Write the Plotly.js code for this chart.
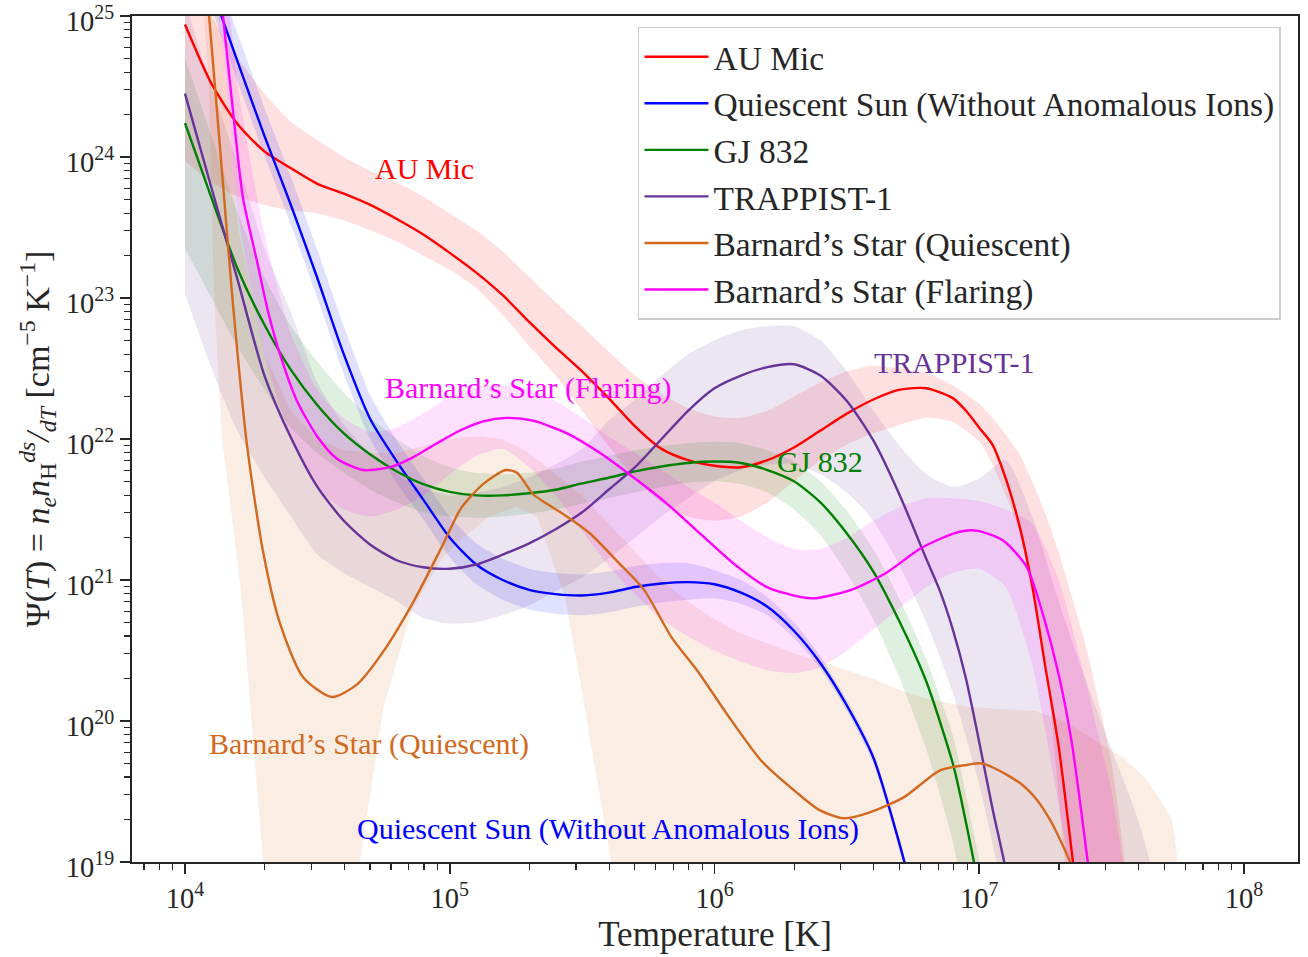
<!DOCTYPE html>
<html><head><meta charset="utf-8">
<script src="https://cdn.plot.ly/plotly-3.0.1.min.js"></script>
<style>body{margin:0;background:#fff}</style>
</head><body><div id="chart" style="width:1308px;height:957px"></div>
<script>
// ---- data (log10 T, log10 Psi) ----
const auMicLogT = [4.0,4.1,4.2,4.3,4.4,4.5,4.6,4.7,4.8,4.9,5.0,5.1,5.2,5.3,5.4,5.5,5.6,5.7,5.8,5.9,6.0,6.1,6.2,6.3,6.4,6.5,6.6,6.7,6.8,6.9,6.95,7.0,7.05,7.1,7.15,7.2,7.25,7.3,7.354,7.4];
const auMicLogPsi = [24.94,24.52,24.23,24.04,23.92,23.81,23.74,23.66,23.56,23.45,23.32,23.18,23.02,22.83,22.65,22.48,22.29,22.09,21.93,21.85,21.81,21.80,21.85,21.94,22.06,22.18,22.28,22.35,22.36,22.29,22.2,22.08,21.96,21.72,21.40,20.96,20.38,19.82,19.0,18.3];
const auMicBandLogT = [4.0,4.1,4.2,4.3,4.4,4.5,4.6,4.7,4.8,4.9,5.0,5.1,5.2,5.3,5.4,5.5,5.6,5.7,5.8,5.9,6.0,6.1,6.2,6.3,6.4,6.5,6.6,6.7,6.8,6.9,7.0,7.05,7.1,7.15,7.2,7.25,7.3,7.35,7.4,7.45,7.5,7.55,7.6];
const auMicBandUpper = [25.4,25.0,24.7,24.45,24.25,24.12,24.0,23.9,23.82,23.72,23.6,23.48,23.33,23.15,22.97,22.8,22.62,22.45,22.32,22.22,22.16,22.15,22.2,22.3,22.4,22.48,22.52,22.5,22.47,22.38,22.25,22.15,22.03,21.9,21.7,21.47,21.2,20.88,20.55,20.15,19.7,19.0,18.2];
const auMicBandLower = [23.97,23.82,23.72,23.66,23.62,23.6,23.55,23.48,23.4,23.3,23.2,23.07,22.88,22.66,22.45,22.2,21.95,21.72,21.55,21.45,21.42,21.45,21.55,21.7,21.85,21.96,22.04,22.1,22.15,22.12,21.98,21.82,21.6,21.35,20.9,20.45,19.45,18.5,17.8,17.5,17.5,17.5,17.5];

const quietSunLogT = [4.0,4.1,4.2,4.3,4.4,4.5,4.6,4.7,4.8,4.9,5.0,5.1,5.2,5.3,5.4,5.5,5.6,5.7,5.8,5.9,6.0,6.1,6.2,6.3,6.4,6.5,6.6,6.7,6.75,6.8];
const quietSunLogPsi = [25.75,25.2,24.67,24.15,23.66,23.14,22.6,22.14,21.84,21.57,21.3,21.11,21.0,20.93,20.9,20.89,20.91,20.95,20.975,20.985,20.97,20.91,20.81,20.64,20.41,20.11,19.74,19.12,18.75,18.3];
const quietSunBandUpper = [25.95,25.4,24.87,24.35,23.86,23.34,22.8,22.31,21.99,21.72,21.45,21.26,21.15,21.08,21.05,21.04,21.06,21.1,21.12,21.12,21.07,21.0,20.88,20.7,20.46,20.15,19.78,19.16,18.79,18.34];
const quietSunBandLower = [25.61,25.06,24.53,24.01,23.52,23.0,22.46,22.0,21.69,21.43,21.16,20.97,20.86,20.79,20.76,20.75,20.77,20.81,20.84,20.86,20.87,20.83,20.75,20.59,20.37,20.07,19.7,19.08,18.71,18.26];

const gj832LogT = [4.0,4.1,4.2,4.3,4.4,4.5,4.6,4.7,4.8,4.9,5.0,5.1,5.2,5.3,5.4,5.5,5.6,5.7,5.8,5.9,6.0,6.1,6.2,6.3,6.4,6.5,6.6,6.7,6.8,6.9,6.93,6.98,7.05];
const gj832LogPsi = [24.24,23.71,23.2,22.81,22.49,22.24,22.04,21.89,21.77,21.68,21.625,21.6,21.6,21.615,21.64,21.685,21.725,21.77,21.805,21.83,21.84,21.83,21.78,21.7,21.55,21.33,21.06,20.7,20.28,19.7,19.46,19.0,18.3];
const gj832BandUpper = [24.7,24.15,23.6,23.15,22.8,22.55,22.33,22.15,22.0,21.88,21.8,21.76,21.75,21.76,21.79,21.84,21.88,21.92,21.95,21.97,21.98,21.97,21.92,21.84,21.7,21.49,21.22,20.86,20.44,19.9,19.66,19.2,18.5];
const gj832BandLower = [23.35,23.0,22.65,22.35,22.08,21.9,21.76,21.64,21.55,21.48,21.45,21.44,21.45,21.47,21.5,21.54,21.58,21.62,21.66,21.69,21.7,21.68,21.62,21.5,21.32,21.05,20.72,20.3,19.8,19.15,18.85,18.4,17.6];

const trappistLogT = [4.0,4.1,4.2,4.3,4.4,4.5,4.6,4.7,4.8,4.9,5.0,5.1,5.2,5.3,5.4,5.5,5.6,5.7,5.8,5.9,6.0,6.1,6.2,6.3,6.4,6.5,6.6,6.7,6.8,6.85,6.9,6.95,7.0,7.05,7.1,7.15];
const trappistLogPsi = [24.45,23.78,23.12,22.45,22.01,21.66,21.42,21.25,21.14,21.09,21.08,21.11,21.18,21.26,21.36,21.48,21.64,21.8,22.0,22.2,22.36,22.45,22.51,22.53,22.45,22.27,21.99,21.6,21.15,20.93,20.65,20.3,19.85,19.38,18.95,18.45];
const trappistBandLogT = [4.0,4.1,4.2,4.3,4.4,4.5,4.6,4.7,4.8,4.9,5.0,5.1,5.2,5.3,5.4,5.5,5.6,5.7,5.8,5.9,6.0,6.1,6.2,6.3,6.4,6.5,6.6,6.7,6.8,6.9,7.0,7.1,7.2,7.3,7.4,7.5,7.6,7.7,7.76];
const trappistBandUpper = [25.1,24.5,23.95,23.35,22.9,22.4,22.1,21.9,21.75,21.65,21.6,21.62,21.66,21.73,21.82,21.93,22.13,22.28,22.45,22.6,22.7,22.77,22.8,22.8,22.7,22.48,22.2,21.95,21.75,21.66,21.72,21.85,21.45,20.85,20.3,19.8,19.3,18.6,18.0];
const trappistBandLower = [23.03,22.5,22.05,21.73,21.45,21.18,21.05,20.95,20.85,20.73,20.69,20.7,20.75,20.82,20.92,21.02,21.15,21.3,21.45,21.58,21.7,21.78,21.82,21.82,21.75,21.62,21.42,21.1,20.7,20.2,19.55,18.7,17.8,17.5,17.5,17.5,17.5,17.5,17.5];

const barnardQLogT = [4.05,4.091,4.14,4.18,4.234,4.295,4.359,4.446,4.555,4.65,4.748,4.861,4.974,5.043,5.126,5.212,5.254,5.314,5.367,5.435,5.53,5.639,5.734,5.839,5.934,6.043,6.176,6.312,6.395,6.489,6.584,6.716,6.852,6.957,7.003,7.052,7.154,7.218,7.267,7.305,7.343,7.4];
const barnardQLogPsi = [25.9,25.0,23.89,22.98,21.96,21.20,20.69,20.31,20.17,20.26,20.49,20.84,21.25,21.51,21.68,21.78,21.76,21.61,21.54,21.46,21.33,21.12,20.93,20.59,20.36,20.06,19.72,19.49,19.37,19.31,19.35,19.46,19.65,19.69,19.70,19.67,19.56,19.44,19.30,19.16,19.0,18.6];
const barnardQUpperLogT = [4.05,4.13,4.2,4.3,4.4,4.5,4.6,4.7,4.8,4.9,5.0,5.1,5.2,5.3,5.4,5.5,5.6,5.7,5.8,5.9,6.0,6.1,6.2,6.3,6.4,6.5,6.6,6.7,6.8,6.96,7.21,7.33,7.45,7.55,7.63,7.68,7.73,7.75,7.78];
const barnardQBandUpper = [26.5,25.0,23.5,22.6,22.2,22.0,21.92,21.9,21.9,21.95,22.0,22.02,22.0,21.9,21.75,21.6,21.4,21.2,21.0,20.85,20.72,20.62,20.55,20.48,20.42,20.36,20.3,20.22,20.16,20.1,20.07,19.99,19.85,19.73,19.59,19.45,19.29,19.0,18.0];
const barnardQLowerLogT = [4.05,4.09,4.11,4.14,4.21,4.295,4.35,4.6,4.66,4.75,4.86,4.97,5.05,5.15,5.25,5.33,5.435,5.5,5.61,5.7,7.8];
const barnardQBandLower = [25.6,24.5,23.0,22.0,20.95,19.0,17.5,17.5,19.0,20.1,20.8,21.15,21.3,21.45,21.52,21.45,20.88,20.2,19.0,17.5,17.5];

const barnardFLogT = [4.1,4.144,4.181,4.219,4.272,4.313,4.359,4.423,4.499,4.574,4.672,4.774,4.861,4.952,5.039,5.126,5.216,5.314,5.443,5.568,5.692,5.821,5.945,6.07,6.198,6.323,6.38,6.516,6.648,6.784,6.92,6.99,7.09,7.18,7.24,7.30,7.35,7.41,7.45];
const barnardFLogPsi = [25.77,24.99,24.33,23.71,23.26,22.91,22.6,22.27,22.02,21.86,21.78,21.8,21.87,21.97,22.06,22.125,22.15,22.13,22.04,21.9,21.73,21.54,21.33,21.12,20.95,20.88,20.87,20.93,21.05,21.23,21.34,21.35,21.28,21.09,20.76,20.33,19.84,19.0,18.4];
const barnardFBandLogT = [4.1,4.15,4.2,4.3,4.4,4.5,4.6,4.7,4.8,4.9,5.0,5.1,5.2,5.3,5.4,5.5,5.6,5.7,5.8,5.9,6.0,6.1,6.2,6.3,6.4,6.5,6.6,6.7,6.8,6.9,7.0,7.1,7.2,7.3,7.4,7.45,7.5,7.55,7.6];
const barnardFBandUpper = [26.2,25.4,24.5,23.45,22.75,22.35,22.15,22.05,22.08,22.18,22.3,22.37,22.38,22.35,22.27,22.15,22.02,21.9,21.78,21.66,21.55,21.42,21.3,21.22,21.22,21.3,21.42,21.52,21.58,21.58,21.56,21.5,21.4,21.0,20.3,19.9,19.5,18.9,18.2];
const barnardFBandLower = [25.4,24.6,23.6,22.6,22.0,21.65,21.5,21.45,21.5,21.6,21.75,21.88,21.93,21.8,21.6,21.35,21.1,20.9,20.72,20.6,20.5,20.42,20.36,20.34,20.38,20.5,20.65,20.8,20.95,21.05,21.08,20.95,20.4,19.4,18.3,17.5,17.5,17.5,17.5];

const xTickVals = [1e4,1e5,1e6,1e7,1e8];
const xTickText = ['10<sup>4</sup>','10<sup>5</sup>','10<sup>6</sup>','10<sup>7</sup>','10<sup>8</sup>'];
const yTickVals = [1e19,1e20,1e21,1e22,1e23,1e24,1e25];
const yTickText = ['10<sup>19</sup>','10<sup>20</sup>','10<sup>21</sup>','10<sup>22</sup>','10<sup>23</sup>','10<sup>24</sup>','10<sup>25</sup>'];

// ---- build ----
const FONT = '"Liberation Serif", "Times New Roman", serif';
const INK = '#262626';
const pow10 = v => Math.pow(10, v);
const series = [
  {name:'AU Mic', color:'#ff0000', rgb:'255,0,0', lt:auMicLogT, ly:auMicLogPsi, ut:auMicBandLogT, u:auMicBandUpper, lot:auMicBandLogT, lo:auMicBandLower, bandShape:'spline'},
  {name:'Quiescent Sun (Without Anomalous Ions)', color:'#0000ff', rgb:'0,0,255', lt:quietSunLogT, ly:quietSunLogPsi, ut:quietSunLogT, u:quietSunBandUpper, lot:quietSunLogT, lo:quietSunBandLower, bandShape:'spline'},
  {name:'GJ 832', color:'#008000', rgb:'0,128,0', lt:gj832LogT, ly:gj832LogPsi, ut:gj832LogT, u:gj832BandUpper, lot:gj832LogT, lo:gj832BandLower, bandShape:'spline'},
  {name:'TRAPPIST-1', color:'#663399', rgb:'102,51,153', lt:trappistLogT, ly:trappistLogPsi, ut:trappistBandLogT, u:trappistBandUpper, lot:trappistBandLogT, lo:trappistBandLower, bandShape:'spline'},
  {name:'Barnard\u2019s Star (Quiescent)', color:'#d2691e', rgb:'210,105,30', lt:barnardQLogT, ly:barnardQLogPsi, ut:barnardQUpperLogT, u:barnardQBandUpper, lot:barnardQLowerLogT, lo:barnardQBandLower, bandShape:'linear'},
  {name:'Barnard\u2019s Star (Flaring)', color:'#ff00ff', rgb:'255,0,255', lt:barnardFLogT, ly:barnardFLogPsi, ut:barnardFBandLogT, u:barnardFBandUpper, lot:barnardFBandLogT, lo:barnardFBandLower, bandShape:'spline'}
];
const traces = [];
series.forEach(s => {
  const xs = s.ut.map(pow10).concat(s.lot.slice().reverse().map(pow10));
  const ys = s.u.map(pow10).concat(s.lo.slice().reverse().map(pow10));
  traces.push({x:xs, y:ys, type:'scatter', mode:'lines', fill:'toself',
    fillcolor:'rgba(' + s.rgb + ',0.12)', line:{width:0, shape:s.bandShape, smoothing:0.6},
    hoverinfo:'skip', showlegend:false});
});
series.forEach(s => {
  traces.push({x:s.lt.map(pow10), y:s.ly.map(pow10), type:'scatter', mode:'lines', name:s.name,
    line:{color:s.color, width:2.4, shape:'spline', smoothing:0.7}});
});

function minorFor(d0, d1) {
  const out = [];
  for (let d = d0; d <= d1; d++) for (let k = 2; k <= 9; k++) out.push(k * Math.pow(10, d));
  return out;
}

const axisCommon = {
  type:'log', showgrid:false, zeroline:false, showline:true, linecolor:INK, linewidth:2, mirror:true,
  ticks:'outside', ticklen:10, tickwidth:1.6, tickcolor:INK, ticklabeloverflow:'allow',
  tickfont:{family:FONT, size:28.5, color:INK}
};
const minorCommon = {tickmode:'array', ticks:'outside', ticklen:6, tickwidth:1.2, tickcolor:INK, showgrid:false};

const annFont = (c) => ({family:FONT, size:30, color:c});
const layout = {
  width:1308, height:957,
  margin:{l:132, r:10, t:16, b:95},
  paper_bgcolor:'#ffffff', plot_bgcolor:'#ffffff',
  showlegend:true,
  xaxis:Object.assign({}, axisCommon, {range:[3.7998, 8.204], tickmode:'array', tickvals:xTickVals, ticktext:xTickText,
    minor:Object.assign({}, minorCommon, {tickvals:minorFor(3, 8)}),
    title:{text:'Temperature [K]', font:{family:FONT, size:35, color:INK}, standoff:8}}),
  yaxis:Object.assign({}, axisCommon, {range:[18.9999, 25.0001], tickmode:'array', tickvals:yTickVals, ticktext:yTickText,
    ticklabelshift:5,
    minor:Object.assign({}, minorCommon, {tickvals:minorFor(19, 24)}),
    title:{text:'\u03A8(<i>T</i>) = <i>n<sub>e</sub>n</i><sub>H</sub><i><sup>ds</sup>/<sub>dT</sub></i> [cm<sup>\u22125</sup> K<sup>\u22121</sup>]', font:{family:FONT, size:34, color:INK}, standoff:6}}),
  legend:{x:0.9854, xanchor:'right', y:0.987, yanchor:'top', bgcolor:'rgba(255,255,255,0.85)',
    bordercolor:'#cccccc', borderwidth:1.5, font:{family:FONT, size:33.5, color:INK}, itemwidth:64},
  annotations:[
    {x:4.903, y:23.916, text:'AU Mic', showarrow:false, font:annFont('#ff0000')},
    {x:5.296, y:22.365, text:'Barnard\u2019s Star (Flaring)', showarrow:false, font:annFont('#ff00ff')},
    {x:6.905, y:22.542, text:'TRAPPIST-1', showarrow:false, font:annFont('#663399')},
    {x:6.398, y:21.841, text:'GJ 832', showarrow:false, font:annFont('#008000')},
    {x:4.695, y:19.836, text:'Barnard\u2019s Star (Quiescent)', showarrow:false, font:annFont('#d2691e')},
    {x:5.598, y:19.234, text:'Quiescent Sun (Without Anomalous Ions)', showarrow:false, font:annFont('#0000ff')}
  ]
};
Plotly.newPlot('chart', traces, layout, {displayModeBar:false, staticPlot:true});
</script></body></html>
